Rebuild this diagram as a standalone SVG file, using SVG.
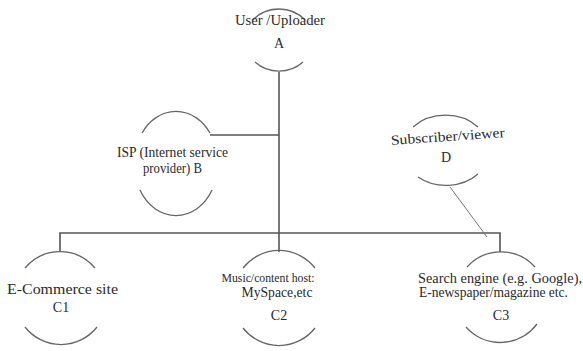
<svg xmlns="http://www.w3.org/2000/svg" width="583" height="351" viewBox="0 0 583 351">
<style>
.arc{fill:none;stroke:#666;stroke-width:1.3}
.ln{fill:none;stroke:#555;stroke-width:1.6}
.thin{fill:none;stroke:#777;stroke-width:1}
.t{font-family:'Liberation Serif','DejaVu Serif',serif;font-size:14px;fill:#2a2a2a}
.m{text-anchor:middle}
.s{font-size:12.5px}
</style>
<rect width="583" height="351" fill="#fff"/>
<g id="connectors">
<path class="ln" d="M279,72 V233"/>
<path class="ln" d="M210,135 H279"/>
<path class="ln" d="M60,252 V233 H500 V252"/>
<path class="ln" d="M279,233 V252"/>
<path class="thin" d="M450,187 L487,237"/>
</g>
<g id="nodeA" class="t" font-family="Liberation Serif, serif">
<path class="arc" d="M253,20 A34,31 0 0 1 305,20"/>
<path class="arc" d="M255,62 A34,31 0 0 0 303,62"/>
<text class="m" x="280" y="25" textLength="90" lengthAdjust="spacingAndGlyphs">User /Uploader</text>
<text class="m" x="279" y="48">A</text>
</g>
<g id="nodeB" class="t" font-family="Liberation Serif, serif">
<path class="arc" d="M142,133 A41,49 0 0 1 210,133"/>
<path class="arc" d="M140,190 A41,49 0 0 0 212,190"/>
<text x="117" y="157" textLength="111" lengthAdjust="spacingAndGlyphs">ISP (Internet service</text>
<text x="143" y="173" textLength="59" lengthAdjust="spacingAndGlyphs">provider) B</text>
</g>
<g id="nodeD" class="t" font-family="Liberation Serif, serif">
<path class="arc" d="M413,127 A44,36.5 0 0 1 478,127"/>
<path class="arc" d="M418,177 A44,36.5 0 0 0 478,174"/>
<text class="m" x="448" y="141" transform="rotate(-4 448 141)" textLength="114" lengthAdjust="spacingAndGlyphs">Subscriber/viewer</text>
<text class="m" x="446" y="162">D</text>
</g>
<g id="nodeC1" class="t" font-family="Liberation Serif, serif">
<path class="arc" d="M25,268 A46,46.5 0 0 1 95,268"/>
<path class="arc" d="M25,327 A46,46.5 0 0 0 97,327"/>
<text x="7" y="294" textLength="111" lengthAdjust="spacingAndGlyphs">E-Commerce site</text>
<text class="m" x="61" y="312">C1</text>
</g>
<g id="nodeC2" class="t" font-family="Liberation Serif, serif">
<path class="arc" d="M243,268 A46,46.5 0 0 1 315,268"/>
<path class="arc" d="M243,328 A46,46.5 0 0 0 315,328"/>
<text class="m s" x="268" y="282" textLength="93" lengthAdjust="spacingAndGlyphs">Music/content host:</text>
<text class="m" x="277" y="297" textLength="71" lengthAdjust="spacingAndGlyphs">MySpace,etc</text>
<text class="m" x="279" y="320">C2</text>
</g>
<g id="nodeC3" class="t" font-family="Liberation Serif, serif">
<path class="arc" d="M467,267 A46,46.5 0 0 1 535,267"/>
<path class="arc" d="M466,327 A46,46.5 0 0 0 537,324"/>
<text x="418" y="283" textLength="164" lengthAdjust="spacingAndGlyphs">Search engine (e.g. Google),</text>
<text x="419" y="297" textLength="149" lengthAdjust="spacingAndGlyphs">E-newspaper/magazine etc.</text>
<text class="m" x="501" y="320">C3</text>
</g>
</svg>
